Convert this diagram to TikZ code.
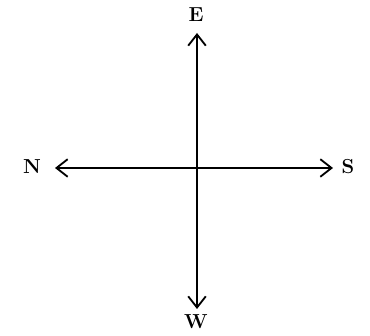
\documentclass[tikz,border=0pt]{standalone}
\usepackage{tikz}
\usetikzlibrary{arrows.meta}

\begin{document}
\begin{tikzpicture}[x=0.025cm,y=0.025cm,line width=1.3pt,
  >={Straight Barb[length=2.8mm,width=4.4mm]},
  lbl/.style={font=\Large\bfseries}]
       \useasboundingbox (0,0) rectangle (370,336);
       \coordinate (O) at (197,168);
       \node[lbl] (E) at (196,321) {E};
       \node[lbl] (N) at (32,169) {N};
       \node[lbl] (S) at (348,169) {S};
       \node[lbl] (W) at (196,14) {W};
       \coordinate (e) at (197,303);
       \coordinate (n) at (55,168);
       \coordinate (s) at (333,168);
       \coordinate (w) at (197,27);

       \draw[->] (O) -- (e);
       \draw[->] (O) -- (n);
       \draw[->] (O) -- (s);
       \draw[->] (O) -- (w);
    \end{tikzpicture}
\end{document}
